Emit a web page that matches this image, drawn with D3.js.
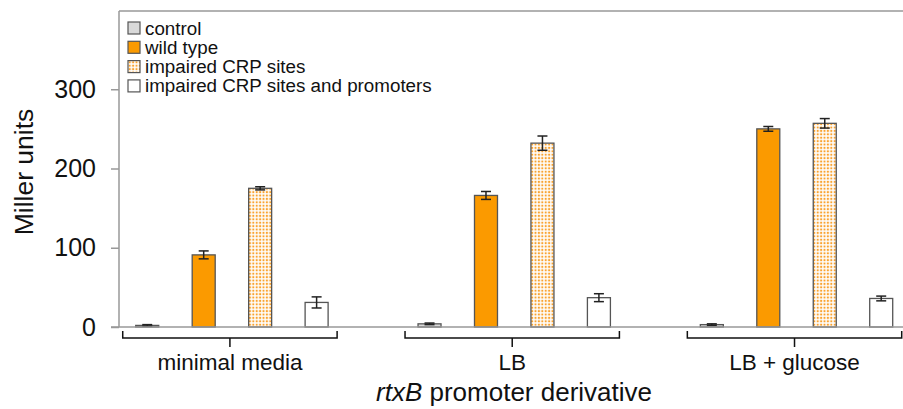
<!DOCTYPE html>
<meta charset="utf-8">
<script src="https://d3js.org/d3.v7.min.js"></script>
<style>
body { margin: 0; background: #fff; }
svg { font-family: Arial, "Liberation Sans", sans-serif; }
</style>
<div id="main"></div>
<script>
// data
const groups = ["minimal media", "LB", "LB + glucose"];
const series = ["control", "wild type", "impaired CRP sites", "impaired CRP sites and promoters"];
const controlVals = [2, 4, 3];
const wildVals = [91, 166, 250];
const crpVals = [175, 232, 257];
const bothVals = [31, 37, 36];
const controlErr = [1, 1, 1];
const wildErr = [5, 5, 3];
const crpErr = [2, 9, 6];
const bothErr = [7, 5, 3];
const yTicks = [0, 100, 200, 300];

const width = 903, height = 409;
const plotLeft = 119, plotTop = 10, plotBottom = 327;
const groupStep = 282.3;

const svg = d3.select("#main").append("svg")
    .attr("width", width)
    .attr("height", height);

const defs = svg.append("defs");
const pat = defs.append("pattern")
    .attr("id", "dots")
    .attr("patternUnits", "userSpaceOnUse")
    .attr("width", 3.4).attr("height", 3.4);
pat.append("rect").attr("width", 3.4).attr("height", 3.4).attr("fill", "#fff");
pat.append("rect").attr("x", 0.7).attr("y", 0.7).attr("width", 2).attr("height", 2).attr("fill", "#f9a330");

const fills = ["#d9d9d9", "#fb9a00", "url(#dots)", "#fff"];
const vals = [controlVals, wildVals, crpVals, bothVals];
const errs = [controlErr, wildErr, crpErr, bothErr];

const data = [];
groups.forEach((g, gi) => series.forEach((s, si) => {
  data.push({group: g, series: s, si: si, value: vals[si][gi], err: errs[si][gi]});
}));

const x0 = d3.scaleBand().domain(groups).range([plotLeft, plotLeft + groups.length * groupStep]);
const x1 = d3.scaleBand().domain(series).range([0, groupStep * 4 / 5]);
const y = d3.scaleLinear().domain([0, 400]).range([plotBottom, plotTop]);
const barW = 23;
const cx = d => x0(d.group) + x1(d.series) + x1.bandwidth() / 2;

// frame
svg.append("line").attr("x1", plotLeft).attr("x2", width).attr("y1", 11).attr("y2", 11)
    .attr("stroke", "#999").attr("stroke-width", 1.5);

// bars
svg.append("g").selectAll("rect")
  .data(data)
  .join("rect")
    .attr("x", d => cx(d) - barW / 2)
    .attr("y", d => y(d.value))
    .attr("width", barW)
    .attr("height", d => y(0) - y(d.value))
    .attr("fill", d => fills[d.si])
    .attr("stroke", "#555")
    .attr("stroke-width", 1.3);

// error bars
const eb = svg.append("g").attr("stroke", "#222").attr("stroke-width", 1.5);
data.forEach(d => {
  const c = cx(d);
  eb.append("line").attr("x1", c).attr("x2", c).attr("y1", y(d.value + d.err)).attr("y2", y(d.value - d.err));
  eb.append("line").attr("x1", c - 5).attr("x2", c + 5).attr("y1", y(d.value + d.err)).attr("y2", y(d.value + d.err));
  eb.append("line").attr("x1", c - 5).attr("x2", c + 5).attr("y1", y(d.value - d.err)).attr("y2", y(d.value - d.err));
});

// y axis
const yAxis = svg.append("g")
    .attr("transform", "translate(" + plotLeft + ",0)")
    .call(d3.axisLeft(y).tickValues(yTicks).tickSize(8).tickPadding(15));
yAxis.select(".domain").attr("d", "M0," + 11 + "V" + plotBottom).attr("stroke", "#999").attr("stroke-width", 1.5);
yAxis.selectAll(".tick line").attr("stroke", "#999").attr("stroke-width", 1.5);
yAxis.selectAll(".tick text").attr("font-size", 25).attr("fill", "#111").attr("font-family", "Arial, 'Liberation Sans', sans-serif");

// x baseline
svg.append("line").attr("x1", plotLeft - 8).attr("x2", width).attr("y1", y(0)).attr("y2", y(0))
    .attr("stroke", "#999").attr("stroke-width", 1.5);

// braces under groups
groups.forEach(g => {
  const a = x0(g) + x1(series[0]) + x1.bandwidth() / 2 - barW / 2 - 13;
  const b = x0(g) + x1(series[3]) + x1.bandwidth() / 2 + barW / 2 + 9;
  const m = (a + b) / 2;
  svg.append("path")
      .attr("d", "M" + a + ",331V338H" + b + "V331M" + m + ",338V347")
      .attr("fill", "none").attr("stroke", "#111").attr("stroke-width", 1.5);
  svg.append("text").attr("x", m).attr("y", 370)
      .attr("text-anchor", "middle").attr("font-size", 22.5).attr("fill", "#111")
      .text(g);
});

// axis titles
const xt = svg.append("text").attr("x", 514).attr("y", 401)
    .attr("text-anchor", "middle").attr("font-size", 26).attr("fill", "#111");
xt.append("tspan").attr("font-style", "italic").text("rtxB");
xt.append("tspan").text(" promoter derivative");

svg.append("text")
    .attr("transform", "translate(33,172) rotate(-90)")
    .attr("text-anchor", "middle").attr("font-size", 26.5).attr("fill", "#111")
    .text("Miller units");

// legend
const lg = svg.append("g").attr("transform", "translate(128,22)");
series.forEach((s, i) => {
  const row = lg.append("g").attr("transform", "translate(0," + (i * 19.3) + ")");
  row.append("rect").attr("width", 12).attr("height", 12)
      .attr("fill", fills[i]).attr("stroke", "#555").attr("stroke-width", 1.2);
  row.append("text").attr("x", 17).attr("y", 12.5).attr("font-size", 18.8).attr("fill", "#111").text(s);
});
</script>
